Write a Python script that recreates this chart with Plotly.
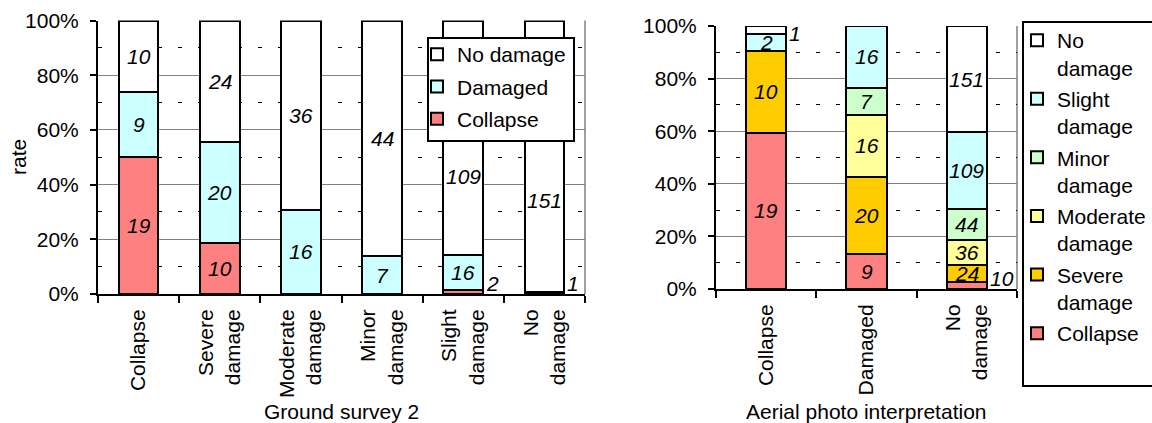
import plotly.graph_objects as go

FONT = "Liberation Sans, Arial, sans-serif"
FS = 21
W, H = 1152, 423

# ---------------- data ----------------
left_categories = ["Collapse", "Severe<br>damage", "Moderate<br>damage",
                   "Minor<br>damage", "Slight<br>damage", "No<br>damage"]
left_collapse = [19, 10, 0, 0, 2, 0]
left_damaged = [9, 20, 16, 7, 16, 1]
left_nodamage = [10, 24, 36, 44, 109, 151]

right_categories = ["Collapse", "Damaged", "No<br>damage"]
right_collapse = [19, 9, 10]
right_severe = [10, 20, 24]
right_moderate = [0, 16, 36]
right_minor = [0, 7, 44]
right_slight = [2, 16, 109]
right_nodamage = [1, 0, 151]

yticks = [0, 0.2, 0.4, 0.6, 0.8, 1.0]
ytick_labels = ["0%", "20%", "40%", "60%", "80%", "100%"]

C_COLLAPSE = "#FF8080"
C_DAMAGED = "#CCFFFF"
C_MINOR = "#CCFFCC"
C_MODERATE = "#FFFF99"
C_SEVERE = "#FFCC00"
C_NONE = "#FFFFFF"

left_series = [("Collapse", left_collapse, C_COLLAPSE),
               ("Damaged", left_damaged, C_DAMAGED),
               ("No damage", left_nodamage, C_NONE)]
right_series = [("Collapse", right_collapse, C_COLLAPSE),
                ("Severe<br>damage", right_severe, C_SEVERE),
                ("Moderate<br>damage", right_moderate, C_MODERATE),
                ("Minor<br>damage", right_minor, C_MINOR),
                ("Slight<br>damage", right_slight, C_DAMAGED),
                ("No<br>damage", right_nodamage, C_NONE)]

# labels that were moved down below the legend in the original (pixel shifts)
LABEL_YSHIFT = {("x", 4, "No damage"): -39, ("x", 5, "No damage"): -44}

# ---------------- layout geometry ----------------
L_X = (98, 585)
L_Y = (20.5, 294)
R_X = (716, 1017)
R_Y = (26, 289)
L_WIDTH = 0.49
R_WIDTH = 0.40

fig = go.Figure()

for i, (name, vals, color) in enumerate(left_series):
    fig.add_bar(x=left_categories, y=vals, name=name, width=L_WIDTH,
                marker=dict(color=color, line=dict(color="black", width=2)),
                xaxis="x", yaxis="y", legend="legend", legendgroup="L%d" % i,
                legendrank=100 - i, hoverinfo="skip")
for i, (name, vals, color) in enumerate(right_series):
    fig.add_bar(x=right_categories, y=vals, name=name, width=R_WIDTH,
                marker=dict(color=color, line=dict(color="black", width=2)),
                xaxis="x2", yaxis="y2", legend="legend2", legendgroup="R%d" % i,
                legendrank=100 - i, hoverinfo="skip")


def add_labels(cats, series, xref, yref, width, catpx):
    n = len(cats)
    totals = [sum(s[1][i] for s in series) for i in range(n)]
    for i in range(n):
        cum = 0
        for name, vals, color in series:
            v = vals[i]
            if v > 0:
                frac = v / totals[i]
                mid = (cum + v / 2) / totals[i]
                ys = LABEL_YSHIFT.get((xref, i, name), 0)
                if frac < 0.04:
                    fig.add_annotation(x=i, y=min(max(mid, 0.04), 0.97), xref=xref, yref=yref,
                                       text="<i>%d</i>" % v, showarrow=False,
                                       xanchor="left", yanchor="middle",
                                       xshift=width * catpx / 2 + 1, yshift=ys,
                                       font=dict(family=FONT, size=FS, color="black"))
                else:
                    fig.add_annotation(x=i, y=mid, xref=xref, yref=yref,
                                       text="<i>%d</i>" % v, showarrow=False,
                                       xanchor="center", yanchor="middle", yshift=ys,
                                       font=dict(family=FONT, size=FS, color="black"))
            cum += v


add_labels(left_categories, left_series, "x", "y", L_WIDTH, (L_X[1] - L_X[0]) / len(left_categories))
add_labels(right_categories, right_series, "x2", "y2", R_WIDTH, (R_X[1] - R_X[0]) / len(right_categories))

xaxis_common = dict(showline=True, linecolor="black", linewidth=2, ticks="outside",
                    tickson="boundaries", ticklen=7, tickwidth=2, tickcolor="black",
                    tickangle=-90, showgrid=False, automargin=False, ticklabelstandoff=5,
                    tickfont=dict(family=FONT, size=FS, color="black"))
yaxis_common = dict(range=[0, 1], tickvals=yticks, ticktext=ytick_labels,
                    showline=True, linecolor="black", linewidth=2, ticks="outside",
                    ticklen=6, tickwidth=2, tickcolor="black", automargin=False,
                    ticklabelstandoff=7,
                    showgrid=True, gridcolor="#808080", gridwidth=1, zeroline=False,
                    minor=dict(dtick=0.1, showgrid=True, gridcolor="black", gridwidth=1,
                               griddash="4px,16px", ticks=""),
                    tickfont=dict(family=FONT, size=FS, color="black"))

fig.update_layout(
    width=W, height=H,
    margin=dict(l=0, r=0, t=0, b=0, autoexpand=False),
    paper_bgcolor="white", plot_bgcolor="white",
    barmode="stack", barnorm="fraction",
    font=dict(family=FONT, size=FS, color="black"),
    xaxis=dict(domain=[L_X[0] / W, L_X[1] / W], anchor="y", **xaxis_common),
    yaxis=dict(domain=[1 - L_Y[1] / H, 1 - L_Y[0] / H], anchor="x", **yaxis_common),
    xaxis2=dict(domain=[R_X[0] / W, R_X[1] / W], anchor="y2", **xaxis_common),
    yaxis2=dict(domain=[1 - R_Y[1] / H, 1 - R_Y[0] / H], anchor="x2", **yaxis_common),
    legend=dict(x=417 / W, y=1 - 34 / H, xanchor="left", yanchor="top",
                traceorder="grouped", bgcolor="rgba(0,0,0,0)", borderwidth=0,
                font=dict(family=FONT, size=FS, color="black"), tracegroupgap=2,
                itemwidth=30),
    legend2=dict(x=1017 / W, y=1 - 20 / H, xanchor="left", yanchor="top",
                 traceorder="grouped", bgcolor="rgba(0,0,0,0)", borderwidth=0,
                 valign="top", font=dict(family=FONT, size=FS, color="black"),
                 tracegroupgap=1, itemwidth=30),
    showlegend=True,
)

# plot-area right borders
for xr, yr in (("x domain", "y domain"), ("x2 domain", "y2 domain")):
    fig.add_shape(type="line", xref=xr, yref=yr, x0=1, x1=1, y0=0, y1=1,
                  line=dict(color="#808080", width=1.5), layer="below")
# legend boxes
fig.add_shape(type="rect", xref="paper", yref="paper",
              x0=428 / W, x1=574 / W, y0=1 - 141 / H, y1=1 - 38 / H,
              line=dict(color="black", width=2), fillcolor="white", layer="above")
fig.add_shape(type="rect", xref="paper", yref="paper",
              x0=1023 / W, x1=1160 / W, y0=1 - 386 / H, y1=1 - 22 / H,
              line=dict(color="black", width=2), fillcolor="white", layer="above")

# axis titles
fig.add_annotation(text="rate", x=18 / W, y=1 - 157 / H, xref="paper", yref="paper",
                   xanchor="center", yanchor="middle",
                   textangle=-90, showarrow=False, font=dict(family=FONT, size=FS))
fig.add_annotation(text="Ground survey 2", x=(L_X[0] + L_X[1]) / 2 / W, y=1 - 411 / H,
                   xref="paper", yref="paper", xanchor="center", yanchor="middle",
                   showarrow=False, font=dict(family=FONT, size=FS))
fig.add_annotation(text="Aerial photo interpretation", x=(R_X[0] + R_X[1]) / 2 / W, y=1 - 411 / H,
                   xref="paper", yref="paper", xanchor="center", yanchor="middle",
                   showarrow=False, font=dict(family=FONT, size=FS))

fig.write_html("out.html", config={"displayModeBar": False},
               post_script="document.body.style.margin='0';document.body.style.padding='0';")
